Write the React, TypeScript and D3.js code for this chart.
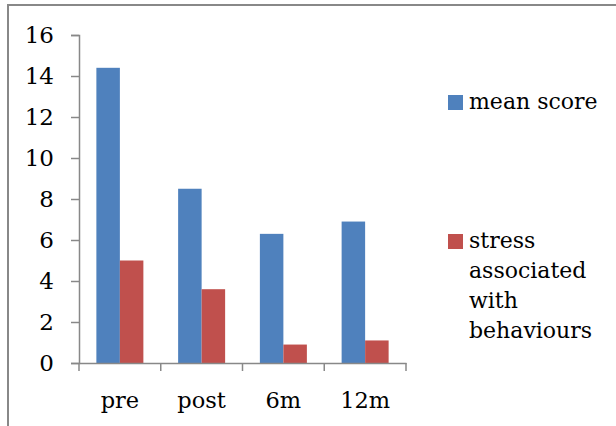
import React, { useEffect, useRef } from 'react';
import * as d3 from 'd3';

const categories = ['pre', 'post', '6m', '12m'];
const seriesNames = ['mean score', 'stress associated with behaviours'];
const meanScore = [14.4, 8.5, 6.3, 6.9];
const stressScore = [5.0, 3.6, 0.9, 1.1];
const yTicks = [0, 2, 4, 6, 8, 10, 12, 14, 16];
const colors = ['#4F81BD', '#C0504D'];
const legendLines = [['mean score'], ['stress', 'associated', 'with', 'behaviours']];

const App = () => {
    const ref = useRef<SVGSVGElement>(null);

    useEffect(() => {
        const width = 616;
        const height = 426;
        const font = '"DejaVu Serif", serif';
        const svg = d3.select(ref.current);
        svg.selectAll('*').remove();

        // outer frame (clipped at right and bottom)
        svg.append('path')
            .attr('d', `M8,${height}V5H${width}`)
            .attr('fill', 'none')
            .attr('stroke', '#888')
            .attr('stroke-width', 2);

        const left = 79, right = 406, top = 35, bottom = 363;

        const x = d3.scaleBand().domain(categories).range([left, right]);
        const inner = d3.scaleBand().domain(seriesNames).range([0, 47]);
        const y = d3.scaleLinear().domain([0, 16]).range([bottom, top]);

        const series = [meanScore, stressScore];
        series.forEach((vals, si) => {
            svg.append('g').selectAll('rect')
                .data(vals)
                .enter()
                .append('rect')
                .attr('x', (d, i) => x(categories[i])! + (x.bandwidth() - 47) / 2 + inner(seriesNames[si])!)
                .attr('y', d => y(d))
                .attr('width', inner.bandwidth())
                .attr('height', d => bottom - y(d))
                .attr('fill', colors[si]);
        });

        // y axis
        const ya = svg.append('g').attr('transform', `translate(${left},0)`)
            .call(d3.axisLeft(y).tickValues(yTicks).tickSize(8).tickSizeOuter(8).tickPadding(17));
        ya.select('.domain').attr('stroke', '#888').attr('stroke-width', 1.5);
        ya.selectAll('.tick line').attr('stroke', '#888').attr('stroke-width', 1.5);
        ya.selectAll('text').attr('font-family', font).attr('font-size', 23).attr('fill', '#000');

        // x axis
        const xa = svg.append('g').attr('transform', `translate(0,${bottom})`)
            .call(d3.axisBottom(x).tickSize(0).tickSizeOuter(0).tickPadding(29));
        xa.select('.domain').attr('stroke', '#888').attr('stroke-width', 1.5);
        xa.selectAll('text').attr('font-family', font).attr('font-size', 22.5).attr('fill', '#000');
        const bounds = categories.map(c => x(c)!).concat([right]);
        svg.append('g').selectAll('line')
            .data(bounds)
            .enter()
            .append('line')
            .attr('x1', d => d).attr('x2', d => d)
            .attr('y1', bottom).attr('y2', bottom + 8)
            .attr('stroke', '#888').attr('stroke-width', 1.5);

        // legend
        const legendY = [95, 234];
        legendLines.forEach((lines, i) => {
            svg.append('rect')
                .attr('x', 448).attr('y', legendY[i])
                .attr('width', 15).attr('height', 15)
                .attr('fill', colors[i]);
            const t = svg.append('text')
                .attr('font-family', font).attr('font-size', 22).attr('fill', '#000');
            lines.forEach((l, j) => {
                t.append('tspan').attr('x', 469).attr('y', legendY[i] + 14 + j * 30).text(l);
            });
        });
    }, []);

    return <svg ref={ref} width={616} height={426} style={{ position: 'absolute', left: 0, top: 0 }}></svg>;
};

export default App;
